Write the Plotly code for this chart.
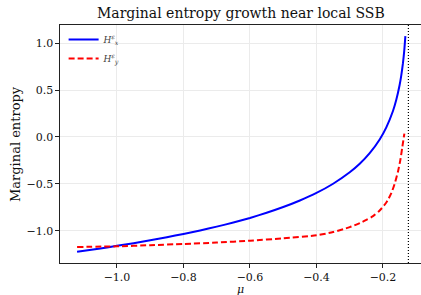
import plotly.graph_objects as go

# ---- data ----
mu_x = [-1.12, -1.05, -1.0, -0.95, -0.9, -0.85, -0.8, -0.75, -0.7, -0.65, -0.6,
        -0.55, -0.5, -0.45, -0.4, -0.35, -0.3, -0.27, -0.24, -0.21, -0.19,
        -0.17, -0.16, -0.15, -0.145, -0.14, -0.136, -0.1327]
H_x = [-1.225, -1.190, -1.162, -1.134, -1.103, -1.070, -1.035, -0.998, -0.957,
       -0.913, -0.864, -0.809, -0.748, -0.678, -0.597, -0.499, -0.377, -0.286,
       -0.173, -0.027, 0.102, 0.277, 0.396, 0.554, 0.657, 0.787, 0.924, 1.076]

mu_y = [-1.12, -1.0, -0.9, -0.8, -0.7, -0.6, -0.5, -0.4, -0.35, -0.3, -0.27,
        -0.25, -0.23, -0.21, -0.19, -0.175, -0.165, -0.155, -0.148, -0.142, -0.1357]
H_y = [-1.174, -1.167, -1.155, -1.142, -1.127, -1.107, -1.082, -1.050, -1.015,
       -0.962, -0.920, -0.885, -0.845, -0.785, -0.700, -0.600, -0.500, -0.370,
       -0.250, -0.110, 0.035]

mu_c = -0.1236  # critical point (dotted line)

x_ticks = [-1.0, -0.8, -0.6, -0.4, -0.2]
x_tick_labels = ["\u22121.0", "\u22120.8", "\u22120.6", "\u22120.4", "\u22120.2"]
y_ticks = [-1.0, -0.5, 0.0, 0.5, 1.0]
y_tick_labels = ["\u22121.0", "\u22120.5", "0.0", "0.5", "1.0"]

FONT = "DejaVu Serif"

fig = go.Figure()
fig.add_trace(go.Scatter(
    x=mu_x, y=H_x, mode="lines", name="<i>H</i><sup><i>\u03b5</i></sup><sub><i>x</i></sub>",
    line=dict(color="blue", width=2, shape="spline", smoothing=0.6)))
fig.add_trace(go.Scatter(
    x=mu_y, y=H_y, mode="lines", name="<i>H</i><sup><i>\u03b5</i></sup><sub><i>y</i></sub>",
    line=dict(color="red", width=2, dash="6px,3px", shape="spline", smoothing=0.6)))

fig.add_shape(type="line", xref="x", yref="paper", x0=mu_c, x1=mu_c, y0=0, y1=1,
              line=dict(color="black", width=1.2, dash="1px,2px"))

fig.update_layout(
    width=421, height=295,
    margin=dict(l=60, r=0, t=25, b=32),
    paper_bgcolor="white", plot_bgcolor="white",
    font=dict(family=FONT, size=10, color="#111"),
    showlegend=True,
    legend=dict(x=0.01, y=1.0, xanchor="left", yanchor="top",
                bgcolor="rgba(255,255,255,0)", borderwidth=0,
                font=dict(family=FONT, size=9, color="#444"), tracegroupgap=0,
                itemwidth=30),
    xaxis=dict(range=[-1.1714, -0.0857], tickvals=x_ticks, ticktext=x_tick_labels,
               showgrid=True, gridcolor="#ebebeb", gridwidth=1, zeroline=False,
               showline=True, linecolor="#222", linewidth=1.2, mirror=True,
               ticks="outside", ticklen=3.5, tickcolor="#222",
               tickfont=dict(family=FONT, size=11)),
    yaxis=dict(range=[-1.345, 1.195], tickvals=y_ticks, ticktext=y_tick_labels,
               showgrid=True, gridcolor="#ebebeb", gridwidth=1, zeroline=False,
               showline=True, linecolor="#222", linewidth=1.2, mirror=False,
               ticks="outside", ticklen=3.5, tickcolor="#222",
               tickfont=dict(family=FONT, size=11)),
    annotations=[
        dict(text="Marginal entropy growth near local SSB", xref="paper", yref="paper",
             x=0.5, y=1.0, yshift=2, xanchor="center", yanchor="bottom", showarrow=False,
             font=dict(family=FONT, size=14, color="#111")),
        dict(text="<i>\u03bc</i>", xref="paper", yref="paper", x=0.5, y=0, yshift=-18,
             xanchor="center", yanchor="top", showarrow=False,
             font=dict(family=FONT, size=11, color="#111")),
        dict(text="Marginal entropy", xref="paper", yref="paper", x=0, y=0.5,
             xshift=-45, xanchor="center", yanchor="middle", textangle=-90, showarrow=False,
             font=dict(family=FONT, size=13, color="#111")),
    ],
)

fig.write_html("out.html", config={"displayModeBar": False},
               post_script="document.body.style.margin='0px';document.body.style.overflow='hidden';")
